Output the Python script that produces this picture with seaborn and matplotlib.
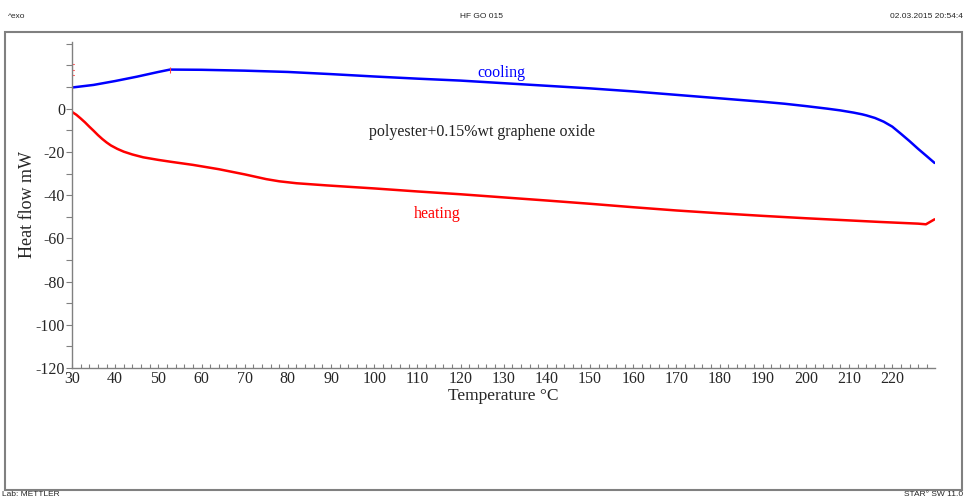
import matplotlib
matplotlib.use("Agg")
import matplotlib.pyplot as plt
import matplotlib.patches as mpatches
from matplotlib.ticker import MultipleLocator, FixedLocator
import numpy as np
import pandas as pd
import seaborn as sns

# ---- data ----
cooling_temp = [30, 35, 40, 45, 50, 52.7, 60, 70, 80, 90, 100, 110, 120, 130, 140, 150,
                160, 170, 180, 190, 195, 200, 205, 208, 211, 213, 214, 216, 218, 220, 222,
                224, 226, 228, 229.8]
cooling_flow = [9.8, 11.0, 12.8, 14.8, 17.0, 18.1, 18.0, 17.6, 17.0, 16.0, 14.9, 13.9, 13.0,
                11.8, 10.6, 9.4, 8.0, 6.4, 4.8, 3.2, 2.3, 1.2, 0.0, -0.8, -1.8, -2.6, -3.1,
                -4.3, -6.0, -8.3, -11.6, -15.0, -18.6, -22.0, -25.1]
heating_temp = [30, 31, 32, 33, 34, 35, 36, 37, 38, 39, 40.5, 42, 44, 46.5, 50, 53, 58, 64,
                70, 75, 78, 82, 89, 100, 110, 120, 131, 140, 150, 160, 170, 180, 190, 200,
                210, 217, 226, 227.8, 229.8]
heating_flow = [-1.5, -2.8, -4.5, -6.3, -8.3, -10.2, -12.2, -14.0, -15.6, -17.0, -18.6, -19.9,
                -21.2, -22.5, -23.7, -24.6, -26.0, -28.0, -30.4, -32.6, -33.6, -34.5, -35.5,
                -36.9, -38.3, -39.6, -41.2, -42.5, -44.0, -45.6, -47.1, -48.4, -49.6, -50.7,
                -51.7, -52.4, -53.2, -53.5, -51.2]
x_ticks = [30, 40, 50, 60, 70, 80, 90, 100, 110, 120, 130, 140, 150, 160, 170, 180, 190, 200, 210, 220]
y_ticks = [-120, -100, -80, -60, -40, -20, 0]
title_center = "HF GO 015"
header_left = "^exo"
header_right = "02.03.2015 20:54:4"
footer_left = "Lab: METTLER"
footer_right = "STAR\u00b0 SW 11.0"

sns.set_style("white")
plt.rcParams["font.family"] = ["Liberation Serif", "DejaVu Serif"]

df_c = pd.DataFrame({"Temperature": cooling_temp, "Heat flow": cooling_flow, "run": "cooling"})
df_h = pd.DataFrame({"Temperature": heating_temp, "Heat flow": heating_flow, "run": "heating"})
df = pd.concat([df_c, df_h], ignore_index=True)

fig = plt.figure(figsize=(9.65, 4.99), dpi=100)
ax = fig.add_axes([72 / 965, 1 - 368 / 499, (935 - 72) / 965, (368 - 41.7) / 499])

sns.lineplot(data=df, x="Temperature", y="Heat flow", hue="run",
             palette={"cooling": "#0000ff", "heating": "#ff0000"},
             sort=False, estimator=None, linewidth=1.8, legend=False, ax=ax)

# small red markers of the original software
ax.plot([cooling_temp[5]], [cooling_flow[5]], marker="|", color="#ff4040", ms=5, mew=0.8)
ax.plot([cooling_temp[0]], [cooling_flow[0]], marker="|", color="#ff8080", ms=4, mew=0.8)
ax.plot([cooling_temp[0], cooling_temp[0]], [15.5, 20.5], color="#ff6060", lw=0.8)
ax.plot([cooling_temp[0] - 0.4, cooling_temp[0] + 0.4], [15.5, 15.5], color="#ff6060", lw=0.8)
ax.plot([cooling_temp[0] - 0.4, cooling_temp[0] + 0.4], [20.5, 20.5], color="#ff6060", lw=0.8)
ax.plot([cooling_temp[0] - 0.4, cooling_temp[0] + 0.4], [18, 18], color="#ff6060", lw=0.8)

ax.set_xlim(30, 229.9)
ax.set_ylim(-120, 31)

ax.xaxis.set_major_locator(FixedLocator(x_ticks))
ax.xaxis.set_minor_locator(MultipleLocator(2))
ax.yaxis.set_major_locator(FixedLocator(y_ticks))
ax.yaxis.set_minor_locator(FixedLocator([-110, -90, -70, -50, -30, -10, 10, 20, 30]))

grey = "#808080"
for side in ["top", "right"]:
    ax.spines[side].set_visible(False)
for side in ["left", "bottom"]:
    ax.spines[side].set_visible(True)
    ax.spines[side].set_color(grey)
    ax.spines[side].set_linewidth(1.0)

ax.tick_params(axis="x", which="both", direction="in", length=3, width=0.8, color=grey,
               labelsize=11.5, pad=2, bottom=True)
ax.tick_params(axis="y", which="both", direction="out", length=4, width=0.8, color=grey,
               labelsize=11.5, pad=1, left=True)
ax.set_xticklabels([str(t) for t in x_ticks])
ax.set_yticklabels([str(t) for t in y_ticks])

ax.set_xlabel("Temperature \u00b0C", fontsize=12.5, labelpad=1)
ax.set_ylabel("Heat flow mW", fontsize=13, labelpad=0)

ax.text(129.5, 16.6, "cooling", color="#0000ff", fontsize=11.5, ha="center", va="center")
ax.text(114.5, -48.6, "heating", color="#ff0000", fontsize=11.5, ha="center", va="center")
ax.text(125, -10.6, "polyester+0.15%wt graphene oxide", color="#222222", fontsize=11.5,
        ha="center", va="center")

# page frame and header / footer
fig.patches.append(mpatches.Rectangle((5 / 965, 1 - 490 / 499), 957 / 965, 458 / 499,
                                      transform=fig.transFigure, fill=False,
                                      edgecolor=grey, linewidth=1.5))
hf = ["Liberation Sans", "DejaVu Sans"]
fig.text(8 / 965, 1 - 16 / 499, header_left, fontsize=6, family=hf, ha="left", va="center")
fig.text(482 / 965, 1 - 16 / 499, title_center, fontsize=6, family=hf, ha="center", va="center")
fig.text(963 / 965, 1 - 16 / 499, header_right, fontsize=6, family=hf, ha="right", va="center")
fig.text(2 / 965, 1 - 495 / 499, footer_left, fontsize=6, family=hf, ha="left", va="center")
fig.text(963 / 965, 1 - 495 / 499, footer_right, fontsize=6, family=hf, ha="right", va="center")

fig.savefig("out.png", dpi=100)
